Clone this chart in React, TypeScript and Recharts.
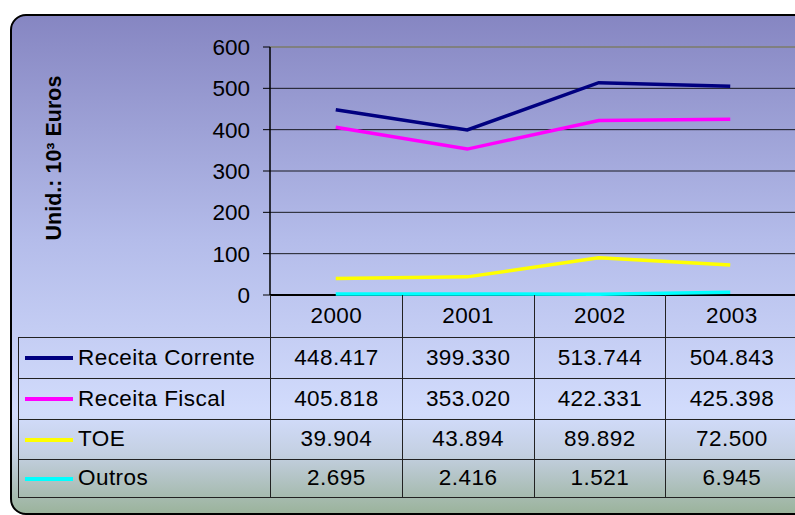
import { CartesianGrid, Line, LineChart, ReferenceLine, XAxis, YAxis } from 'recharts';

const YEARS = ['2000', '2001', '2002', '2003'];
const RECEITA_CORRENTE = [448.417, 399.33, 513.744, 504.843];
const RECEITA_FISCAL = [405.818, 353.02, 422.331, 425.398];
const TOE = [39.904, 43.894, 89.892, 72.5];
const OUTROS = [2.695, 2.416, 1.521, 6.945];
const Y_TICKS = [0, 100, 200, 300, 400, 500, 600];

const SERIES = [
  { key: 'rc', name: 'Receita Corrente', values: RECEITA_CORRENTE, color: '#000080' },
  { key: 'rf', name: 'Receita Fiscal', values: RECEITA_FISCAL, color: '#ff00ff' },
  { key: 'toe', name: 'TOE', values: TOE, color: '#ffff00' },
  { key: 'out', name: 'Outros', values: OUTROS, color: '#00ffff' },
];

const data = YEARS.map((year, i) => {
  const row: Record<string, string | number> = { year };
  SERIES.forEach((s) => (row[s.key] = s.values[i]));
  return row;
});

const fmt = (v: number) => v.toFixed(3);

const FONT = 'Arial, "Liberation Sans", sans-serif';
const ROW_H = [42, 41, 41, 40, 38];
const cell = { borderTop: '1px solid #222', borderLeft: '1px solid #222', textAlign: 'center' as const, padding: 0 };

export default function App() {
  return (
    <div style={{ position: 'absolute', left: 0, top: 0, width: 795, height: 515, overflow: 'hidden', background: '#fff', fontFamily: FONT }}>
      <div
        style={{
          position: 'absolute',
          left: 10,
          top: 14,
          width: 800,
          height: 497,
          border: '2px solid #000',
          borderRadius: 16,
          background: 'linear-gradient(to bottom, #8686c2 0%, #b4bcea 45%, #d2dcfc 80%, #c4d0e2 88%, #9bb39c 100%)',
        }}
      />
      <LineChart
        width={796}
        height={515}
        data={data}
        margin={{ top: 47, right: 0, bottom: 220, left: 0 }}
        style={{ position: 'absolute', left: 0, top: 0 }}
      >
        <CartesianGrid vertical={false} stroke="#000" strokeOpacity={0.85} />
        <XAxis dataKey="year" hide padding={{ left: 65.75, right: 65.75 }} />
        <YAxis
          width={270}
          domain={[0, 600]}
          ticks={Y_TICKS}
          interval={0}
          tickSize={7}
          tickMargin={13}
          axisLine={{ stroke: '#000', strokeWidth: 1.5 }}
          tickLine={{ stroke: '#000' }}
          tick={{ fill: '#000', fontSize: 22.5, fontFamily: FONT }}
        />
        <ReferenceLine y={600} stroke="#808080" strokeWidth={2} />
        <ReferenceLine y={0} stroke="#000" strokeWidth={2} />
        {SERIES.map((s) => (
          <Line
            key={s.key}
            dataKey={s.key}
            name={s.name}
            stroke={s.color}
            strokeWidth={3.5}
            dot={false}
            type="linear"
            isAnimationActive={false}
          />
        ))}
        <text
          x={61}
          y={158}
          transform="rotate(-90, 61, 158)"
          textAnchor="middle"
          fontSize={21.5}
          fontWeight="bold"
          fontFamily={FONT}
          fill="#000"
        >
          Unid.: 10³ Euros
        </text>
      </LineChart>
      <table
        style={{
          position: 'absolute',
          left: 18,
          top: 295,
          width: 252 + 4 * 131.75,
          borderCollapse: 'collapse',
          tableLayout: 'fixed',
          fontSize: 22.5,
          letterSpacing: 0.45,
          fontFamily: FONT,
          color: '#000',
          borderBottom: '1px solid #222',
        }}
      >
        <colgroup>
          <col style={{ width: 252 }} />
          {YEARS.map((y) => (
            <col key={y} style={{ width: 131.75 }} />
          ))}
        </colgroup>
        <tbody>
          <tr style={{ height: ROW_H[0] }}>
            <td style={{ padding: 0 }} />
            {YEARS.map((y) => (
              <td key={y} style={{ ...cell, borderTop: 'none' }}>
                {y}
              </td>
            ))}
          </tr>
          {SERIES.map((s, r) => (
            <tr key={s.key} style={{ height: ROW_H[r + 1] }}>
              <td style={{ ...cell, textAlign: 'left', whiteSpace: 'nowrap' }}>
                <span
                  style={{
                    display: 'inline-block',
                    width: 48,
                    height: 4,
                    background: s.color,
                    verticalAlign: 'middle',
                    marginLeft: 6,
                    marginRight: 5,
                  }}
                />
                <span style={{ verticalAlign: 'middle' }}>{s.name}</span>
              </td>
              {s.values.map((v, i) => (
                <td key={i} style={cell}>
                  {fmt(v)}
                </td>
              ))}
            </tr>
          ))}
        </tbody>
      </table>
    </div>
  );
}
